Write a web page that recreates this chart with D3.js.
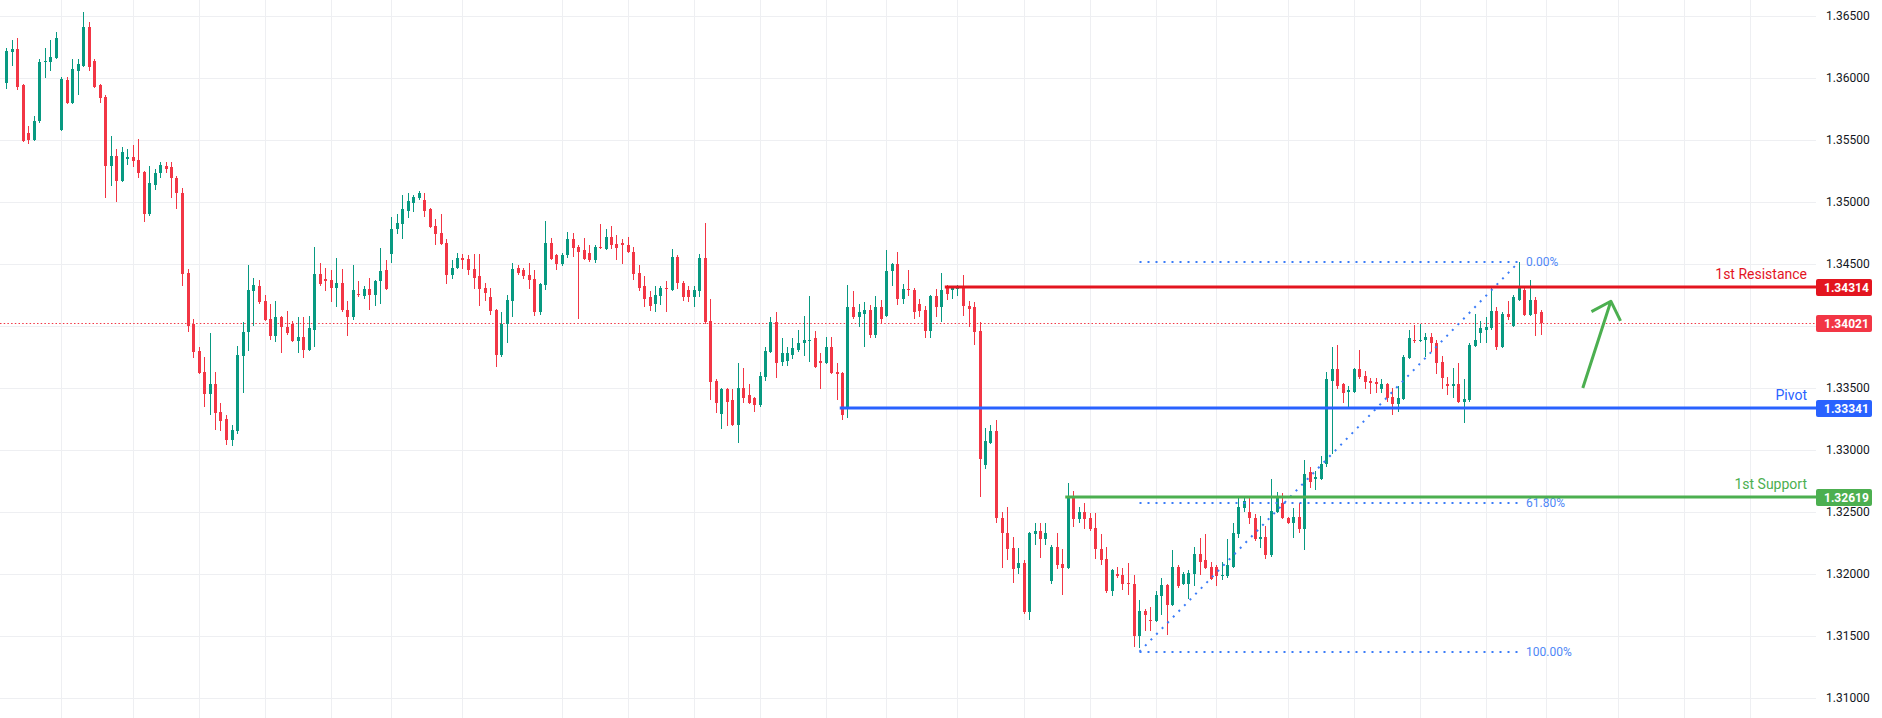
<!DOCTYPE html>
<html>
<head>
<meta charset="utf-8">
<script src="https://cdn.jsdelivr.net/npm/d3@7"></script>
<style>
  body { margin: 0; background: #fff; }
  svg { display: block; font-family: Roboto, "Liberation Sans", sans-serif; }
</style>
</head>
<body>
<div id="chart"></div>
<script>
// candles, oldest -> newest
var opens = [
  1.3596, 1.3621, 1.3623, 1.3594, 1.3556, 1.3550, 1.3565, 1.3613, 1.3613, 1.3616,
  1.3558, 1.3598, 1.3580, 1.3606, 1.3610, 1.3641, 1.3614, 1.3594, 1.3585, 1.3529,
  1.3537, 1.3517, 1.3535, 1.3536, 1.3534, 1.3524, 1.3490, 1.3514, 1.3523, 1.3529,
  1.3528, 1.3519, 1.3507, 1.3443, 1.3402, 1.3380, 1.3363, 1.3345, 1.3353, 1.3331,
  1.3325, 1.3308, 1.3315, 1.3376, 1.3395, 1.3428, 1.3432, 1.3420, 1.3406, 1.3392,
  1.3407, 1.3399, 1.3402, 1.3388, 1.3391, 1.3381, 1.3397, 1.3442, 1.3438, 1.3437,
  1.3431, 1.3435, 1.3413, 1.3407, 1.3426, 1.3424, 1.3430, 1.3425, 1.3436, 1.3445,
  1.3458, 1.3478, 1.3482, 1.3493, 1.3499, 1.3503, 1.3502, 1.3494, 1.3481, 1.3475,
  1.3467, 1.3441, 1.3447, 1.3455, 1.3454, 1.3446, 1.3440, 1.3431, 1.3423, 1.3413,
  1.3377, 1.3402, 1.3420, 1.3447, 1.3445, 1.3441, 1.3438, 1.3411, 1.3433, 1.3467,
  1.3457, 1.3450, 1.3457, 1.3470, 1.3464, 1.3461, 1.3459, 1.3453, 1.3464, 1.3462,
  1.3472, 1.3466, 1.3467, 1.3465, 1.3460, 1.3443, 1.3432, 1.3423, 1.3418, 1.3424,
  1.3431, 1.3429, 1.3456, 1.3435, 1.3429, 1.3423, 1.3428, 1.3455, 1.3404, 1.3356,
  1.3329, 1.3349, 1.3340, 1.3320, 1.3350, 1.3344, 1.3342, 1.3336, 1.3359, 1.3379,
  1.3403, 1.3371, 1.3372, 1.3377, 1.3381, 1.3386, 1.3388, 1.3390, 1.3372, 1.3370,
  1.3383, 1.3363, 1.3362, 1.3333, 1.3415, 1.3407, 1.3410, 1.3413, 1.3393, 1.3415,
  1.3408, 1.3444, 1.3450, 1.3422, 1.3430, 1.3429, 1.3418, 1.3413, 1.3396, 1.3424,
  1.3415, 1.3432, 1.3429, 1.3430, 1.3431, 1.3416, 1.3415, 1.3396, 1.3288, 1.3306,
  1.3315, 1.3245, 1.3233, 1.3221, 1.3205, 1.3209, 1.3169, 1.3232, 1.3235, 1.3228,
  1.3194, 1.3222, 1.3208, 1.3205, 1.3262, 1.3244, 1.3250, 1.3245, 1.3237, 1.3220,
  1.3212, 1.3186, 1.3200, 1.3199, 1.3193, 1.3192, 1.3150, 1.3170, 1.3163, 1.3162,
  1.3182, 1.3191, 1.3175, 1.3206, 1.3192, 1.3192, 1.3200, 1.3216, 1.3211, 1.3206,
  1.3206, 1.3198, 1.3198, 1.3206, 1.3232, 1.3253, 1.3250, 1.3245, 1.3228, 1.3230,
  1.3215, 1.3250, 1.3257, 1.3245, 1.3241, 1.3246, 1.3236, 1.3282, 1.3277, 1.3277,
  1.3289, 1.3356, 1.3365, 1.3353, 1.3347, 1.3347, 1.3365, 1.3360, 1.3356, 1.3355,
  1.3349, 1.3353, 1.3343, 1.3337, 1.3341, 1.3374, 1.3389, 1.3388, 1.3389, 1.3391,
  1.3386, 1.3371, 1.3353, 1.3352, 1.3353, 1.3339, 1.3340, 1.3384, 1.3394, 1.3397,
  1.3398, 1.3412, 1.3383, 1.3410, 1.3400, 1.3421, 1.3429, 1.3409, 1.3421, 1.3411
];
var highs = [
  1.3624, 1.3631, 1.3632, 1.3595, 1.3561, 1.3569, 1.3615, 1.3624, 1.3631, 1.3637,
  1.3601, 1.3601, 1.3615, 1.3615, 1.3653, 1.3645, 1.3615, 1.3595, 1.3586, 1.3553,
  1.3543, 1.3544, 1.3543, 1.3546, 1.3551, 1.3525, 1.3529, 1.3527, 1.3532, 1.3532,
  1.3532, 1.3521, 1.3511, 1.3446, 1.3406, 1.3383, 1.3375, 1.3394, 1.3363, 1.3338,
  1.3328, 1.3320, 1.3384, 1.3403, 1.3449, 1.3439, 1.3437, 1.3425, 1.3418, 1.3420,
  1.3408, 1.3412, 1.3404, 1.3407, 1.3407, 1.3408, 1.3464, 1.3451, 1.3447, 1.3445,
  1.3455, 1.3446, 1.3420, 1.3449, 1.3436, 1.3432, 1.3439, 1.3437, 1.3463, 1.3453,
  1.3488, 1.3490, 1.3506, 1.3507, 1.3506, 1.3509, 1.3507, 1.3495, 1.3486, 1.3490,
  1.3470, 1.3453, 1.3459, 1.3458, 1.3457, 1.3458, 1.3458, 1.3435, 1.3431, 1.3414,
  1.3411, 1.3425, 1.3451, 1.3449, 1.3447, 1.3451, 1.3445, 1.3435, 1.3485, 1.3471,
  1.3458, 1.3459, 1.3476, 1.3475, 1.3465, 1.3471, 1.3465, 1.3465, 1.3482, 1.3478,
  1.3481, 1.3473, 1.3470, 1.3472, 1.3464, 1.3449, 1.3440, 1.3428, 1.3432, 1.3432,
  1.3436, 1.3462, 1.3457, 1.3436, 1.3432, 1.3432, 1.3458, 1.3483, 1.3422, 1.3357,
  1.3350, 1.3350, 1.3349, 1.3370, 1.3366, 1.3353, 1.3343, 1.3363, 1.3383, 1.3407,
  1.3411, 1.3390, 1.3383, 1.3390, 1.3397, 1.3408, 1.3424, 1.3396, 1.3378, 1.3391,
  1.3391, 1.3370, 1.3363, 1.3433, 1.3428, 1.3418, 1.3419, 1.3417, 1.3424, 1.3421,
  1.3461, 1.3451, 1.3460, 1.3434, 1.3445, 1.3431, 1.3422, 1.3416, 1.3425, 1.3430,
  1.3443, 1.3433, 1.3432, 1.3433, 1.3441, 1.3420, 1.3419, 1.3403, 1.3318, 1.3320,
  1.3324, 1.3250, 1.3254, 1.3230, 1.3221, 1.3211, 1.3234, 1.3241, 1.3241, 1.3241,
  1.3223, 1.3233, 1.3220, 1.3273, 1.3267, 1.3254, 1.3257, 1.3249, 1.3249, 1.3232,
  1.3222, 1.3204, 1.3206, 1.3205, 1.3209, 1.3199, 1.3179, 1.3172, 1.3173, 1.3186,
  1.3197, 1.3192, 1.3219, 1.3207, 1.3202, 1.3203, 1.3222, 1.3229, 1.3232, 1.3210,
  1.3207, 1.3210, 1.3228, 1.3241, 1.3262, 1.3262, 1.3262, 1.3248, 1.3247, 1.3239,
  1.3277, 1.3266, 1.3265, 1.3246, 1.3253, 1.3257, 1.3292, 1.3286, 1.3283, 1.3295,
  1.3363, 1.3383, 1.3385, 1.3354, 1.3352, 1.3366, 1.3381, 1.3364, 1.3358, 1.3358,
  1.3357, 1.3354, 1.3350, 1.3352, 1.3377, 1.3397, 1.3401, 1.3402, 1.3394, 1.3394,
  1.3389, 1.3376, 1.3359, 1.3366, 1.3370, 1.3357, 1.3386, 1.3410, 1.3404, 1.3407,
  1.3431, 1.3415, 1.3411, 1.3420, 1.3425, 1.3452, 1.3431, 1.3437, 1.3423, 1.3413
];
var lows = [
  1.3591, 1.3610, 1.3590, 1.3548, 1.3547, 1.3549, 1.3564, 1.3600, 1.3606, 1.3615,
  1.3557, 1.3579, 1.3579, 1.3586, 1.3609, 1.3606, 1.3592, 1.3580, 1.3503, 1.3513,
  1.3500, 1.3516, 1.3530, 1.3528, 1.3519, 1.3484, 1.3489, 1.3510, 1.3519, 1.3523,
  1.3503, 1.3494, 1.3432, 1.3395, 1.3374, 1.3361, 1.3335, 1.3328, 1.3316, 1.3315,
  1.3304, 1.3303, 1.3313, 1.3346, 1.3380, 1.3400, 1.3418, 1.3404, 1.3389, 1.3387,
  1.3378, 1.3393, 1.3387, 1.3378, 1.3374, 1.3380, 1.3383, 1.3432, 1.3428, 1.3419,
  1.3415, 1.3411, 1.3392, 1.3405, 1.3423, 1.3422, 1.3413, 1.3416, 1.3418, 1.3429,
  1.3451, 1.3474, 1.3470, 1.3487, 1.3492, 1.3502, 1.3488, 1.3479, 1.3465, 1.3465,
  1.3434, 1.3438, 1.3446, 1.3446, 1.3441, 1.3430, 1.3416, 1.3420, 1.3409, 1.3367,
  1.3375, 1.3386, 1.3407, 1.3441, 1.3438, 1.3430, 1.3408, 1.3409, 1.3429, 1.3453,
  1.3445, 1.3448, 1.3455, 1.3456, 1.3406, 1.3453, 1.3452, 1.3451, 1.3462, 1.3461,
  1.3462, 1.3453, 1.3450, 1.3459, 1.3437, 1.3428, 1.3415, 1.3412, 1.3411, 1.3417,
  1.3411, 1.3428, 1.3430, 1.3420, 1.3419, 1.3415, 1.3423, 1.3402, 1.3340, 1.3330,
  1.3317, 1.3319, 1.3319, 1.3306, 1.3338, 1.3337, 1.3331, 1.3335, 1.3356, 1.3378,
  1.3358, 1.3368, 1.3368, 1.3373, 1.3379, 1.3376, 1.3371, 1.3366, 1.3349, 1.3369,
  1.3361, 1.3340, 1.3324, 1.3326, 1.3406, 1.3399, 1.3383, 1.3390, 1.3390, 1.3402,
  1.3407, 1.3432, 1.3417, 1.3418, 1.3424, 1.3406, 1.3407, 1.3390, 1.3390, 1.3407,
  1.3403, 1.3421, 1.3422, 1.3424, 1.3408, 1.3399, 1.3385, 1.3262, 1.3285, 1.3305,
  1.3241, 1.3205, 1.3211, 1.3193, 1.3200, 1.3168, 1.3163, 1.3223, 1.3213, 1.3223,
  1.3192, 1.3204, 1.3183, 1.3204, 1.3238, 1.3241, 1.3236, 1.3235, 1.3212, 1.3207,
  1.3185, 1.3182, 1.3197, 1.3187, 1.3183, 1.3141, 1.3140, 1.3154, 1.3154, 1.3161,
  1.3167, 1.3151, 1.3174, 1.3189, 1.3191, 1.3180, 1.3190, 1.3199, 1.3204, 1.3195,
  1.3190, 1.3195, 1.3197, 1.3205, 1.3229, 1.3250, 1.3240, 1.3227, 1.3221, 1.3212,
  1.3214, 1.3249, 1.3244, 1.3240, 1.3229, 1.3233, 1.3219, 1.3269, 1.3268, 1.3276,
  1.3286, 1.3297, 1.3349, 1.3338, 1.3334, 1.3346, 1.3357, 1.3349, 1.3345, 1.3346,
  1.3346, 1.3339, 1.3328, 1.3331, 1.3340, 1.3373, 1.3386, 1.3387, 1.3375, 1.3379,
  1.3361, 1.3349, 1.3344, 1.3342, 1.3338, 1.3322, 1.3339, 1.3383, 1.3386, 1.3386,
  1.3397, 1.3381, 1.3382, 1.3405, 1.3399, 1.3420, 1.3408, 1.3408, 1.3392, 1.3393
];
var closes = [
  1.3622, 1.3623, 1.3593, 1.3549, 1.3550, 1.3565, 1.3613, 1.3614, 1.3617, 1.3632,
  1.3599, 1.3580, 1.3607, 1.3611, 1.3641, 1.3609, 1.3593, 1.3584, 1.3529, 1.3537,
  1.3517, 1.3540, 1.3536, 1.3533, 1.3523, 1.3490, 1.3515, 1.3523, 1.3530, 1.3527,
  1.3519, 1.3507, 1.3442, 1.3400, 1.3379, 1.3362, 1.3345, 1.3353, 1.3330, 1.3323,
  1.3308, 1.3316, 1.3377, 1.3395, 1.3429, 1.3433, 1.3419, 1.3405, 1.3392, 1.3407,
  1.3399, 1.3394, 1.3388, 1.3391, 1.3381, 1.3398, 1.3442, 1.3434, 1.3436, 1.3431,
  1.3435, 1.3413, 1.3407, 1.3429, 1.3425, 1.3430, 1.3425, 1.3436, 1.3444, 1.3430,
  1.3478, 1.3483, 1.3494, 1.3501, 1.3504, 1.3507, 1.3493, 1.3480, 1.3474, 1.3466,
  1.3441, 1.3447, 1.3455, 1.3453, 1.3445, 1.3439, 1.3430, 1.3427, 1.3412, 1.3377,
  1.3402, 1.3421, 1.3446, 1.3443, 1.3440, 1.3437, 1.3411, 1.3434, 1.3467, 1.3454,
  1.3450, 1.3457, 1.3470, 1.3463, 1.3460, 1.3454, 1.3453, 1.3464, 1.3463, 1.3472,
  1.3465, 1.3463, 1.3465, 1.3460, 1.3442, 1.3431, 1.3422, 1.3416, 1.3425, 1.3431,
  1.3430, 1.3456, 1.3435, 1.3423, 1.3423, 1.3429, 1.3455, 1.3403, 1.3355, 1.3338,
  1.3349, 1.3339, 1.3320, 1.3350, 1.3342, 1.3338, 1.3336, 1.3360, 1.3380, 1.3403,
  1.3370, 1.3378, 1.3378, 1.3382, 1.3386, 1.3389, 1.3389, 1.3367, 1.3370, 1.3383,
  1.3362, 1.3361, 1.3328, 1.3415, 1.3407, 1.3411, 1.3413, 1.3393, 1.3415, 1.3406,
  1.3444, 1.3450, 1.3422, 1.3430, 1.3429, 1.3411, 1.3412, 1.3396, 1.3424, 1.3415,
  1.3429, 1.3426, 1.3431, 1.3432, 1.3416, 1.3414, 1.3395, 1.3293, 1.3307, 1.3315,
  1.3245, 1.3233, 1.3220, 1.3204, 1.3209, 1.3169, 1.3233, 1.3235, 1.3228, 1.3233,
  1.3222, 1.3207, 1.3205, 1.3262, 1.3244, 1.3250, 1.3244, 1.3236, 1.3220, 1.3211,
  1.3186, 1.3203, 1.3198, 1.3192, 1.3192, 1.3150, 1.3170, 1.3167, 1.3162, 1.3183,
  1.3191, 1.3175, 1.3206, 1.3190, 1.3200, 1.3201, 1.3216, 1.3210, 1.3205, 1.3196,
  1.3198, 1.3199, 1.3207, 1.3233, 1.3254, 1.3259, 1.3245, 1.3228, 1.3230, 1.3215,
  1.3251, 1.3261, 1.3245, 1.3241, 1.3246, 1.3236, 1.3281, 1.3274, 1.3278, 1.3289,
  1.3357, 1.3365, 1.3352, 1.3346, 1.3348, 1.3365, 1.3359, 1.3355, 1.3354, 1.3353,
  1.3353, 1.3342, 1.3337, 1.3342, 1.3375, 1.3390, 1.3388, 1.3389, 1.3391, 1.3386,
  1.3370, 1.3358, 1.3352, 1.3353, 1.3339, 1.3341, 1.3385, 1.3389, 1.3398, 1.3399,
  1.3412, 1.3383, 1.3410, 1.3407, 1.3423, 1.3431, 1.3409, 1.3421, 1.3410, 1.34021
];

// price axis ticks and time grid (candle index of each session break)
var priceTicks = [1.310, 1.315, 1.320, 1.325, 1.330, 1.335, 1.340, 1.345, 1.350, 1.355, 1.360, 1.365];
var timeTicks = [10, 23, 35, 47, 59, 70, 83, 101, 113, 125, 137, 149, 160, 173, 185, 197,
                 209, 220, 233, 245, 257, 269, 280, 293, 305, 317];

// horizontal levels
var levelNames = ["1st Resistance", "Pivot", "1st Support"];
var levelPrices = [1.34314, 1.33341, 1.32619];
var levelStarts = [170.6, 151.5, 192.5];
var levelColors = ["#e3151f", "#2962ff", "#4caf50"];

var lastPrice = 1.34021;

// fib retracement
var fibRatios = [0, 0.618, 1];
var fibLabels = ["0.00%", "61.80%", "100.00%"];
var fibHigh = 1.34517, fibLow = 1.31374;
var fibStart = 206, fibEnd = 275;

// projection arrow [candle index, price]
var arrowFrom = [286.6, 1.3350];
var arrowTo = [291.7, 1.3420];

var W = 1882, H = 718;
var plotRight = 1816;
var upColor = "#089981", downColor = "#f23645";

var svg = d3.select("#chart").append("svg")
  .attr("width", W)
  .attr("height", H);

svg.append("rect").attr("width", W).attr("height", H).attr("fill", "#fff");

var x = d3.scaleLinear()
  .domain([0, opens.length - 1])
  .range([6.5, 6.5 + (opens.length - 1) * 5.5]);

var y = d3.scaleLinear()
  .domain([1.31, 1.365])
  .range([698, 16]);

// Grid
var grid = svg.append("g").attr("class", "grid");
grid.selectAll(".hgrid").data(priceTicks).enter().append("line")
  .attr("x1", 0).attr("x2", plotRight)
  .attr("y1", function(d){ return Math.round(y(d)) + 0.5; })
  .attr("y2", function(d){ return Math.round(y(d)) + 0.5; })
  .attr("stroke", "#eeeff2");
grid.selectAll(".vgrid").data(timeTicks).enter().append("line")
  .attr("x1", function(d){ return Math.floor(x(d)) + 0.5; })
  .attr("x2", function(d){ return Math.floor(x(d)) + 0.5; })
  .attr("y1", 0).attr("y2", H)
  .attr("stroke", "#eeeff2");

// Current price line
svg.append("line")
  .attr("x1", 0).attr("x2", plotRight)
  .attr("y1", Math.round(y(lastPrice)) + 0.5)
  .attr("y2", Math.round(y(lastPrice)) + 0.5)
  .attr("stroke", downColor)
  .attr("stroke-dasharray", "1.5 2.2");

// Candles
var candles = d3.range(opens.length).map(function(i){
  return { i: i, o: opens[i], h: highs[i], l: lows[i], c: closes[i] };
});

var cg = svg.append("g").attr("class", "candles");
var candle = cg.selectAll(".candle").data(candles).enter().append("g")
  .attr("class", "candle")
  .attr("fill", function(d){ return d.c >= d.o ? upColor : downColor; })
  .attr("stroke", function(d){ return d.c >= d.o ? upColor : downColor; });

candle.append("line")
  .attr("x1", function(d){ return Math.floor(x(d.i)) + 0.5; })
  .attr("x2", function(d){ return Math.floor(x(d.i)) + 0.5; })
  .attr("y1", function(d){ return Math.round(y(d.h)); })
  .attr("y2", function(d){ return Math.round(y(d.l)); })
  .attr("stroke-width", 1);

candle.append("rect")
  .attr("stroke", "none")
  .attr("x", function(d){ return Math.floor(x(d.i)) - 1; })
  .attr("width", 3)
  .attr("y", function(d){ return Math.round(y(Math.max(d.o, d.c))); })
  .attr("height", function(d){
    return Math.max(1, Math.round(y(Math.min(d.o, d.c))) - Math.round(y(Math.max(d.o, d.c))));
  });

// Fib retracement
var fg = svg.append("g").attr("class", "fib");
var fibColor = "#3b7cf8";
fg.append("line")
  .attr("x1", x(fibStart)).attr("y1", y(fibLow))
  .attr("x2", x(fibEnd)).attr("y2", y(fibHigh))
  .attr("stroke", fibColor)
  .attr("stroke-width", 2)
  .attr("stroke-dasharray", "2 6");

fg.selectAll(".fibline").data(fibRatios).enter().append("line")
  .attr("x1", x(fibStart)).attr("x2", x(fibEnd))
  .attr("y1", function(d){ return Math.round(y(fibHigh - d * (fibHigh - fibLow))); })
  .attr("y2", function(d){ return Math.round(y(fibHigh - d * (fibHigh - fibLow))); })
  .attr("stroke", fibColor)
  .attr("stroke-width", 2)
  .attr("stroke-dasharray", "2 6");

fg.selectAll(".fiblabel").data(fibRatios).enter().append("text")
  .attr("x", x(fibEnd) + 7)
  .attr("y", function(d){ return y(fibHigh - d * (fibHigh - fibLow)); })
  .attr("dy", "0.35em")
  .attr("font-size", 12)
  .attr("fill", "#4f87f6")
  .text(function(d, i){ return fibLabels[i]; });

// Levels
var lg = svg.append("g").attr("class", "levels");
levelPrices.forEach(function(p, k){
  var ly = Math.round(y(p));
  lg.append("line")
    .attr("x1", x(levelStarts[k])).attr("x2", plotRight)
    .attr("y1", ly).attr("y2", ly)
    .attr("stroke", levelColors[k])
    .attr("stroke-width", 3);
  lg.append("text")
    .attr("x", plotRight - 9)
    .attr("y", ly - 8)
    .attr("text-anchor", "end")
    .attr("font-size", 14)
    .attr("fill", levelColors[k])
    .text(levelNames[k]);
});

// Arrow
var ax0 = x(arrowFrom[0]), ay0 = y(arrowFrom[1]);
var ax1 = x(arrowTo[0]), ay1 = y(arrowTo[1]);
var back = Math.atan2(ay0 - ay1, ax0 - ax1);
var wing = 22, spread = 44 * Math.PI / 180;
var arrowPath = d3.path();
arrowPath.moveTo(ax0, ay0);
arrowPath.lineTo(ax1, ay1);
arrowPath.moveTo(ax1 + wing * Math.cos(back + spread), ay1 + wing * Math.sin(back + spread));
arrowPath.lineTo(ax1, ay1);
arrowPath.lineTo(ax1 + wing * Math.cos(back - spread), ay1 + wing * Math.sin(back - spread));
svg.append("path")
  .attr("d", arrowPath.toString())
  .attr("fill", "none")
  .attr("stroke", "#4caf50")
  .attr("stroke-width", 3)
  .attr("stroke-linejoin", "round");

// Price axis
var axis = svg.append("g")
  .attr("class", "y-axis")
  .attr("transform", "translate(" + plotRight + ",0)")
  .call(d3.axisRight(y).tickValues(priceTicks).tickFormat(d3.format(".5f")).tickSize(0).tickPadding(10));
axis.select(".domain").remove();
axis.selectAll("text")
  .attr("font-size", 12)
  .attr("font-family", "Roboto, 'Liberation Sans', sans-serif")
  .attr("fill", "#131722");

// Price labels on the axis
var boxes = levelPrices.concat([lastPrice]);
var boxColors = levelColors.concat([downColor]);
boxes.forEach(function(p, k){
  var by = Math.round(y(p));
  svg.append("rect")
    .attr("x", plotRight).attr("y", by - 8)
    .attr("width", 56).attr("height", 17)
    .attr("rx", 2)
    .attr("fill", boxColors[k]);
  svg.append("text")
    .attr("x", plotRight + 8)
    .attr("y", by + 0.5)
    .attr("dy", "0.35em")
    .attr("font-size", 12)
    .attr("font-weight", "bold")
    .attr("fill", "#fff")
    .text(d3.format(".5f")(p));
});
</script>
</body>
</html>
